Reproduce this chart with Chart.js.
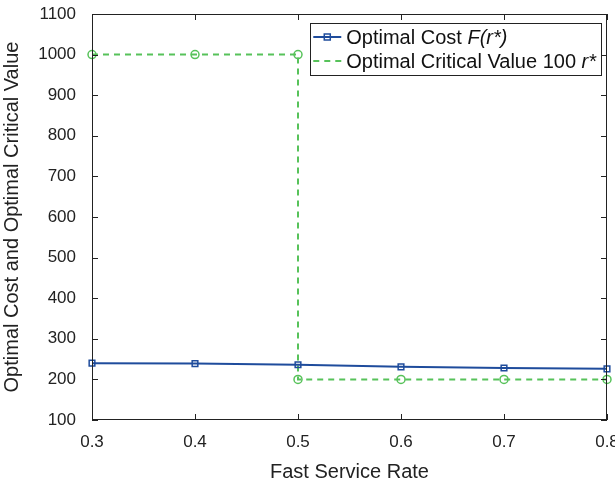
<!DOCTYPE html>
<html>
<head>
<meta charset="utf-8">
<script src="https://cdn.jsdelivr.net/npm/chart.js@4"></script>
<style>
  html, body { margin: 0; padding: 0; background: #fff; }
  #wrap { width: 615px; height: 480px; }
</style>
</head>
<body>
<div id="wrap"><canvas id="chart" width="615" height="480"></canvas></div>
<script>
// Values
const rates = [0.3, 0.4, 0.5, 0.6, 0.7, 0.8];
const optimalCost = [240, 239, 236, 231, 228, 226];
const criticalRates = [0.3, 0.4, 0.5, 0.5, 0.6, 0.7, 0.8];
const criticalValue = [1000, 1000, 1000, 200, 200, 200, 200];

const BLUE = "#1f4c9c";
const GREEN = "#57c25a";
const FONT = "'Liberation Sans', Arial, Helvetica, sans-serif";

// Box around the plot with ticks pointing inwards on all four sides
const framePlugin = {
  id: "frame",
  afterDatasetsDraw(chart) {
    const { ctx, chartArea: a, scales } = chart;
    ctx.save();
    ctx.strokeStyle = "#222";
    ctx.lineWidth = 1;
    ctx.strokeRect(a.left + 0.5, a.top + 0.5, a.right - a.left - 1, a.bottom - a.top - 1);
    ctx.beginPath();
    scales.x.ticks.forEach(t => {
      const px = Math.round(scales.x.getPixelForValue(t.value)) + 0.5;
      ctx.moveTo(px, a.bottom); ctx.lineTo(px, a.bottom - 6);
      ctx.moveTo(px, a.top); ctx.lineTo(px, a.top + 6);
    });
    scales.y.ticks.forEach(t => {
      const py = Math.round(scales.y.getPixelForValue(t.value)) + 0.5;
      ctx.moveTo(a.left, py); ctx.lineTo(a.left + 6, py);
      ctx.moveTo(a.right, py); ctx.lineTo(a.right - 6, py);
    });
    ctx.stroke();
    ctx.restore();
  }
};

// Legend with the italic math parts, drawn in the top right corner
const legendPlugin = {
  id: "mathLegend",
  afterDraw(chart) {
    const { ctx, chartArea: a } = chart;
    const rows = [
      { parts: [["Optimal Cost ", false], ["F(r*)", true]], color: BLUE, dash: [], marker: true },
      { parts: [["Optimal Critical Value 100 ", false], ["r*", true]], color: GREEN, dash: [6, 5], marker: false }
    ];
    ctx.save();
    const size = 20;
    let maxW = 0;
    rows.forEach(r => {
      let w = 0;
      r.parts.forEach(([txt, it]) => {
        ctx.font = (it ? "italic " : "") + size + "px " + FONT;
        w += ctx.measureText(txt).width;
      });
      maxW = Math.max(maxW, w);
    });
    const sample = 28;
    const boxW = 3 + sample + 5 + maxW + 5;
    const boxH = 52;
    const right = a.right - 6;
    const left = right - boxW;
    const top = a.top + 9;
    ctx.fillStyle = "#fff";
    ctx.fillRect(left, top, boxW, boxH);
    ctx.strokeStyle = "#222";
    ctx.lineWidth = 1;
    ctx.strokeRect(Math.round(left) + 0.5, top + 0.5, Math.round(boxW), boxH);
    rows.forEach((r, i) => {
      const y = top + 14 + i * 24;
      ctx.strokeStyle = r.color;
      ctx.lineWidth = 2;
      ctx.setLineDash(r.dash);
      ctx.beginPath();
      ctx.moveTo(left + 3, y); ctx.lineTo(left + 3 + sample, y);
      ctx.stroke();
      ctx.setLineDash([]);
      if (r.marker) {
        ctx.lineWidth = 1.5;
        ctx.strokeRect(left + 3 + sample / 2 - 3, y - 3, 6, 6);
      }
      let x = left + 3 + sample + 5;
      ctx.fillStyle = "#111";
      ctx.textBaseline = "middle";
      r.parts.forEach(([txt, it]) => {
        ctx.font = (it ? "italic " : "") + size + "px " + FONT;
        ctx.fillText(txt, x, y + 1);
        x += ctx.measureText(txt).width;
      });
    });
    ctx.restore();
  }
};

function createChart() {
  const ctx = document.getElementById("chart").getContext("2d");
  return new Chart(ctx, {
    type: "line",
    data: {
      datasets: [
        {
          label: "Optimal Critical Value 100 r*",
          data: criticalRates.map((r, i) => ({ x: r, y: criticalValue[i] })),
          borderColor: GREEN,
          backgroundColor: "#fff",
          borderWidth: 2,
          borderDash: [6, 5],
          pointStyle: "circle",
          pointRadius: 4,
          pointBorderWidth: 1.5,
          pointBorderColor: GREEN,
          pointBackgroundColor: "rgba(0,0,0,0)",
          tension: 0,
          clip: false,
          order: 2
        },
        {
          label: "Optimal Cost F(r*)",
          data: rates.map((r, i) => ({ x: r, y: optimalCost[i] })),
          borderColor: BLUE,
          backgroundColor: "#fff",
          borderWidth: 2,
          pointStyle: "rect",
          pointRadius: 4,
          pointBorderWidth: 1.5,
          pointBorderColor: BLUE,
          pointBackgroundColor: "rgba(0,0,0,0)",
          tension: 0,
          clip: false,
          order: 1
        }
      ]
    },
    options: {
      responsive: false,
      animation: false,
      layout: { padding: { top: 14, right: 8, left: 0, bottom: 0 } },
      plugins: {
        legend: { display: false },
        tooltip: { enabled: false }
      },
      scales: {
        x: {
          type: "linear",
          min: 0.3,
          max: 0.8,
          grid: { display: false, drawTicks: false },
          border: { display: false },
          ticks: {
            stepSize: 0.1,
            padding: 12,
            color: "#222",
            font: { family: FONT, size: 17 },
            callback: v => v.toFixed(1)
          },
          title: {
            display: true,
            text: "Fast Service Rate",
            color: "#222",
            font: { family: FONT, size: 20 },
            padding: { top: 4, bottom: -4 }
          },
          afterFit: s => {
            s.height = 60;
            s.paddingLeft = 0;
            s.paddingRight = 0;
          }
        },
        y: {
          min: 100,
          max: 1100,
          grid: { display: false, drawTicks: false },
          border: { display: false },
          ticks: {
            stepSize: 100,
            padding: 16,
            color: "#222",
            font: { family: FONT, size: 17 },
            callback: v => String(v)
          },
          title: {
            display: true,
            text: "Optimal Cost and Optimal Critical Value",
            color: "#222",
            font: { family: FONT, size: 20 },
            padding: { top: 0, bottom: 0 }
          },
          afterFit: s => {
            s.width = 92;
            s.paddingTop = 0;
            s.paddingBottom = 0;
          }
        }
      }
    },
    plugins: [framePlugin, legendPlugin]
  });
}

const chart = createChart();
</script>
</body>
</html>
